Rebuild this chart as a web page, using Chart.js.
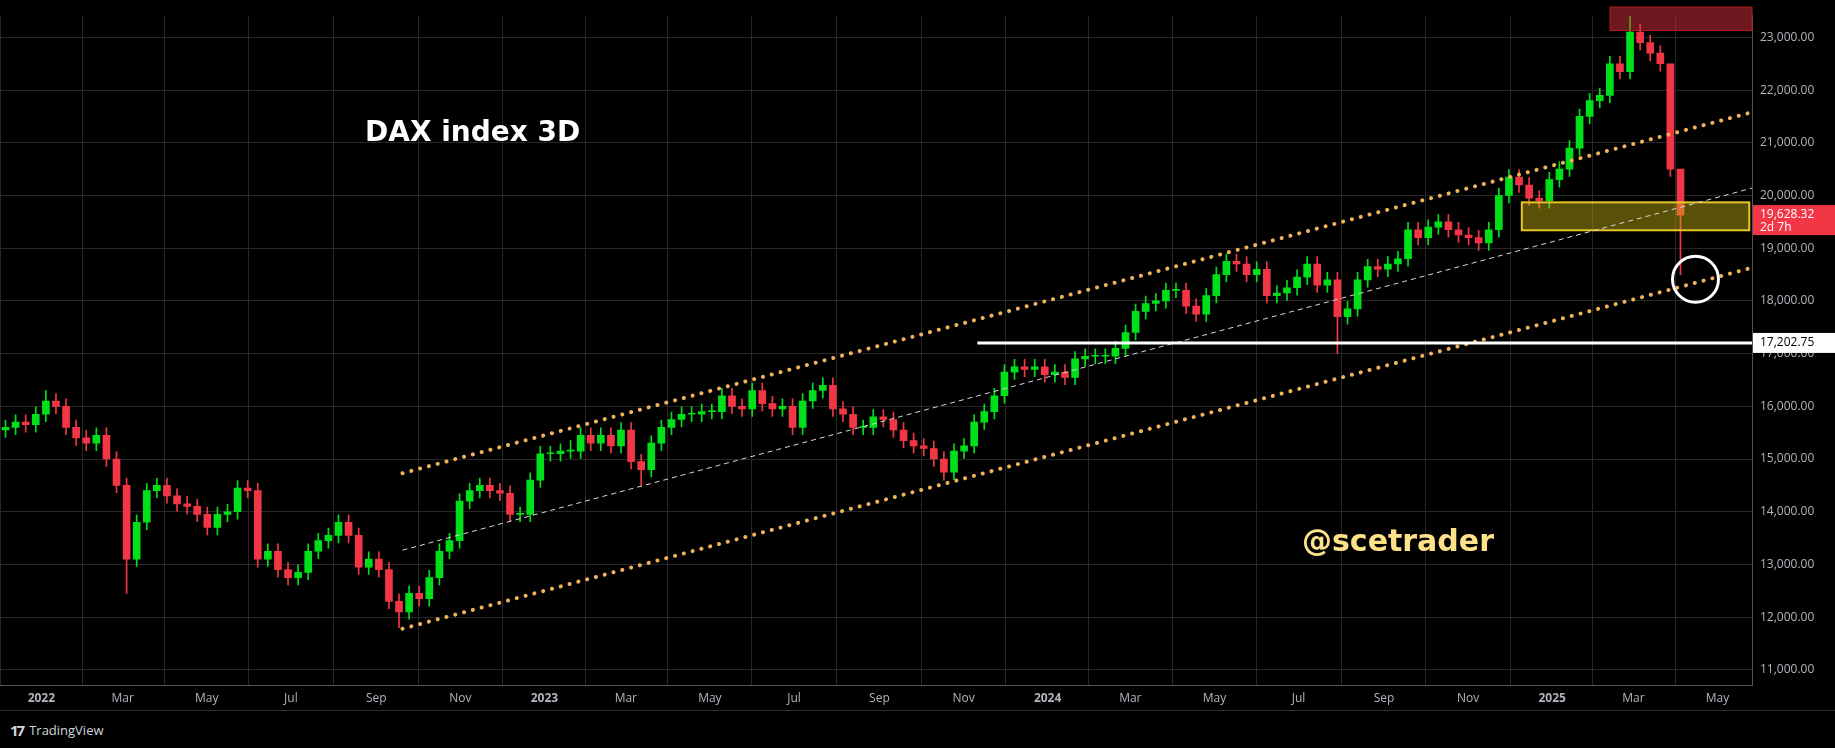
<!DOCTYPE html>
<html><head><meta charset="utf-8">
<script src="https://cdn.jsdelivr.net/npm/chart.js@4.4.1/dist/chart.umd.min.js"></script>
<style>
html,body{margin:0;padding:0;background:#000;width:1835px;height:748px;overflow:hidden;font-family:"Open Sans",sans-serif}
#wrap{position:relative;width:1835px;height:710px}
#foot{height:38px;border-top:1px solid #2a2e39;color:#d1d4dc;font:13px "Open Sans";display:flex;align-items:center;padding-left:10px;box-sizing:border-box}
#foot b{font:bold 15px "Open Sans";margin-right:6px;letter-spacing:-2px}
</style></head><body>
<div id="wrap"><canvas id="c" width="1835" height="710"></canvas></div>
<div id="foot"><b>17</b>TradingView</div>
<script>
// ---- data (candles ~ every 7.32 days starting 2021-12-06) ----
const startDate = '2021-12-06';
const candleStepDays = 7.32;
const firstOpen = 15550;
const closes = [
15600,15700,15650,15850, 16100,16000,15600,15400, 15300,15450,15000,14500,
13100,13800,14400,14500, 14300,14150,14100,13950, 13700,13950,14000,14450,
14400,13100,13250,12900, 12750,12850,13250,13450, 13550,13800,13550,12950,
13100,12900,12300,12100, 12450,12350,12750,13250, 13450,14200,14400,14500,
14400,14350,13950,13950, 14600,15100,15100,15150,15150, 15450,15300,15450,15250,
15550,14950,14800,15300, 15600,15750,15850,15850, 15900,15900,16200,16000,
15950,16300,16050,15950, 16000,15600,16100,16300,16400, 15950,15850,15600,15600,
15800,15750,15550,15350, 15250,15200,15000,14750, 15150,15250,15700,15900,16200,
16650,16750,16700,16750, 16600,16650,16550,16900,16950, 16950,16950,17100,17400,
17800,17950,18000,18200, 18200,17900,17750,18100, 18500,18750,18700,18500,
18600,18100,18150,18250, 18450,18700,18300,18400, 17700,17850,18400,18650,
18600,18700,18800,19350, 19200,19400,19500,19350, 19250,19200,19100,19350,
20000,20350,20200,19950, 19900,20300,20500,20900,21500, 21800,21900,22500,22350,
23100,22900,22700,22500, 20500,19628.32
];
const wickPad = 140;
const highOverrides = {4:16300, 56:15350, 161:23400, 162:23250, 165:21600, 166:20000};
const lowOverrides = {12:12450, 25:12950, 39:11800, 63:14500, 93:14600, 132:17000, 166:18500};
const yTicks = [11000,12000,13000,14000,15000,16000,17000,18000,19000,20000,21000,22000,23000];
const xTickDates = ['2022-01-01','2022-03-01','2022-05-01','2022-07-01','2022-09-01','2022-11-01',
 '2023-01-01','2023-03-01','2023-05-01','2023-07-01','2023-09-01','2023-11-01',
 '2024-01-01','2024-03-01','2024-05-01','2024-07-01','2024-09-01','2024-11-01',
 '2025-01-01','2025-03-01','2025-05-01'];
const xTickLabels = ['2022','Mar','May','Jul','Sep','Nov','2023','Mar','May','Jul','Sep','Nov',
 '2024','Mar','May','Jul','Sep','Nov','2025','Mar','May'];
const supportLevel = 17202.75;
const lastPrice = 19628.32;
const upperChannel = [['2022-09-20',14730],['2025-05-26',21580]];
const lowerChannel = [['2022-09-20',11780],['2025-05-26',18630]];
const midChannel = [['2022-09-20',13270],['2025-05-26',20140]];
const yellowZone = ['2024-12-10','2025-05-24',19340,19870];
const redZone = ['2025-02-12','2025-05-26',23130,23575];
const circlePoint = ['2025-04-15',18410];

// ---- build ----
const DAY = 86400000;
const t0 = Date.parse('2022-01-01T00:00:00Z');
const d = s => (Date.parse(s+'T00:00:00Z') - t0)/DAY;
const s0 = d(startDate);
const bodies=[], wicks=[], cols=[];
closes.forEach((c,i)=>{
  const o = i===0?firstOpen:closes[i-1];
  const x = s0 + i*candleStepDays;
  const hi = highOverrides[i] ?? Math.max(o,c)+wickPad;
  const lo = lowOverrides[i] ?? Math.min(o,c)-wickPad;
  bodies.push({x, y:[o,c]}); wicks.push({x, y:[lo,hi]});
  cols.push(c>=o?'#00e01a':'#f23645');
});
const xMin = d('2021-12-02'), xMax = d('2025-05-26');

const overlay = {
  id:'overlay',
  afterDatasetsDraw(ch){
    const {ctx, chartArea:a, scales:{x,y}} = ch;
    const X=v=>x.getPixelForValue(typeof v==='string'?d(v):v), Y=v=>y.getPixelForValue(v);
    ctx.save();
    // red zone (may extend above the plot top)
    ctx.fillStyle='rgba(242,54,69,0.45)'; ctx.strokeStyle='#b71c1c'; ctx.lineWidth=1;
    let r=[X(redZone[0]),Y(redZone[3]),X(redZone[1])-X(redZone[0]),Y(redZone[2])-Y(redZone[3])];
    ctx.fillRect(...r); ctx.strokeRect(...r);
    ctx.beginPath(); ctx.rect(a.left,a.top,a.right-a.left,a.bottom-a.top); ctx.clip();
    ctx.fillStyle='rgba(200,180,20,0.45)'; ctx.strokeStyle='#e6c72a'; ctx.lineWidth=2;
    r=[X(yellowZone[0]),Y(yellowZone[3]),X(yellowZone[1])-X(yellowZone[0]),Y(yellowZone[2])-Y(yellowZone[3])];
    ctx.fillRect(...r); ctx.strokeRect(...r);
    const line=(p,dash,col,w,cap)=>{ctx.beginPath();ctx.setLineDash(dash);ctx.lineCap=cap;ctx.strokeStyle=col;ctx.lineWidth=w;
      ctx.moveTo(X(p[0][0]),Y(p[0][1]));ctx.lineTo(X(p[1][0]),Y(p[1][1]));ctx.stroke();};
    line(upperChannel,[0.1,9],'#f0b35a',4,'round');
    line(lowerChannel,[0.1,9],'#f0b35a',4,'round');
    line(midChannel,[5,4],'#d8d8d8',1,'butt');
    ctx.setLineDash([]); ctx.lineCap='butt';
    ctx.strokeStyle='#fff'; ctx.lineWidth=3; ctx.beginPath();
    ctx.moveTo(X('2023-11-11'),Y(supportLevel)); ctx.lineTo(a.right,Y(supportLevel)); ctx.stroke();
    ctx.lineWidth=3; ctx.beginPath(); ctx.arc(X(circlePoint[0]),Y(circlePoint[1]),23,0,Math.PI*2); ctx.stroke();
    ctx.fillStyle='#fff'; ctx.font='bold 28px "DejaVu Sans"'; ctx.textBaseline='middle';
    ctx.fillText('DAX index 3D',365,134);
    ctx.fillStyle='#fde28a'; ctx.font='bold 30px "DejaVu Sans"';
    ctx.fillText('@scetrader',1302,543);
    ctx.restore();
    ctx.save();
    ctx.font='12px "Open Sans"'; ctx.textBaseline='middle';
    let yy=Y(lastPrice);
    ctx.fillStyle='#f23645'; ctx.fillRect(a.right+1,yy-10,82,30);
    ctx.fillStyle='#fff'; ctx.fillText('19,628.32',a.right+8,yy-1); ctx.fillText('2d 7h',a.right+8,yy+12);
    yy=Y(supportLevel);
    ctx.fillStyle='#fff'; ctx.fillRect(a.right+1,yy-10,82,20);
    ctx.fillStyle='#000'; ctx.fillText('17,202.75',a.right+8,yy);
    ctx.restore();
  }
};

new Chart(document.getElementById('c'),{
  type:'bar',
  data:{datasets:[
    {data:wicks, backgroundColor:cols, barThickness:1, grouped:false, order:2},
    {data:bodies, backgroundColor:cols, barThickness:7, grouped:false, minBarLength:1, order:1}
  ]},
  options:{
    responsive:false, animation:false, devicePixelRatio:1,
    layout:{padding:0},
    plugins:{legend:{display:false},tooltip:{enabled:false}},
    scales:{
      x:{type:'linear', min:xMin, max:xMax, offset:false,
        afterBuildTicks:s=>{s.ticks=xTickDates.map(v=>({value:d(v)}));},
        afterFit:s=>{s.height=25;},
        grid:{color:'#262626', drawTicks:false},
        border:{color:'#555', display:true},
        ticks:{color:'#b2b5be', maxRotation:0, autoSkip:false, padding:6,
          callback:(v,i)=>xTickLabels[i],
          font:c=>({family:'"Open Sans"', size:12, weight:/^\d{4}$/.test(xTickLabels[c.index]||'')?'bold':'normal'})}},
      y:{position:'right', min:10712, max:23421,
        afterBuildTicks:s=>{s.ticks=yTicks.map(v=>({value:v}));},
        afterFit:s=>{s.width=83;},
        grid:{color:'#262626', drawTicks:false},
        border:{color:'#555', display:true},
        ticks:{color:'#b2b5be', padding:8, font:{family:'"Open Sans"',size:12},
          callback:v=>v.toLocaleString('en-US',{minimumFractionDigits:2})}}
    }
  },
  plugins:[overlay]
});
</script></body></html>
